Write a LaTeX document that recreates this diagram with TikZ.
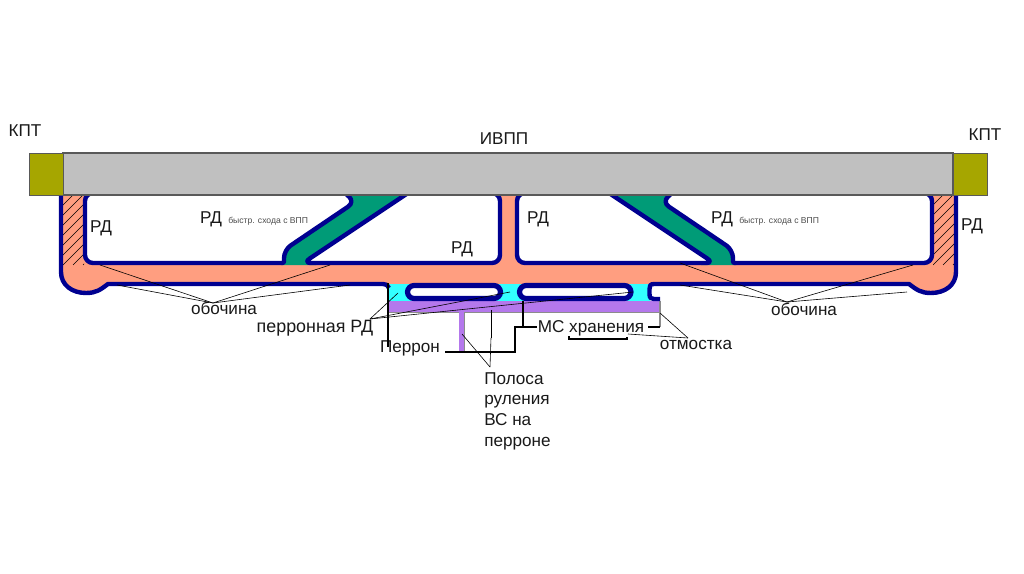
\documentclass[tikz,border=0pt]{standalone}
\usepackage{fontspec}
\setmainfont{Liberation Sans}
\definecolor{navy}{HTML}{000090}
\definecolor{salmon}{HTML}{FF9E80}
\definecolor{teal2}{HTML}{009B77}
\definecolor{rwgray}{HTML}{C0C0C0}
\definecolor{olive2}{HTML}{A6A600}
\definecolor{cyan2}{HTML}{33FFFF}
\definecolor{purp}{HTML}{B478EC}
\newcommand{\halfplan}{%
  \fill[teal2] (281,265)--(316,265)--(408,195)--(342,195)--(285,240)--cycle;
  \filldraw[room] (94,193)--(85,193)--(85,263)[rounded corners=1pt]--(284,263)[rounded corners=6pt]--(284,250)--(355,202)--(345,193);
  \filldraw[room] (408,193)--(303,263)--(500,263)--(500,193)--(488,193);
}
\tikzset{
  room/.style={fill=white,draw=navy,line width=3.3pt,rounded corners=6pt,line join=round},
  blueline/.style={draw=navy,line width=3.3pt,line join=round},
  lead/.style={draw=black,line width=0.45pt},
  heavy/.style={draw=black,line width=1pt},
  lbl/.style={inner sep=0pt,font=\fontsize{12.85pt}{15pt}\selectfont,text=black!90},
  tiny/.style={inner sep=0pt,font=\fontsize{6.45pt}{7pt}\selectfont,text=black!70},
  pill/.style={fill=white,draw=navy,line width=3.9pt,rounded corners=5pt},
  edgegray/.style={draw=black!45,line width=1.2pt},
  runway/.style={draw=black!65,fill=rwgray,line width=0.8pt,inner sep=0pt,minimum width=667.5pt,minimum height=31.5pt},
  kptbox/.style={draw=black!65,fill=olive2,line width=0.6pt,inner sep=0pt,minimum width=25.9pt,minimum height=31.5pt}
}
\begin{document}
\begin{tikzpicture}[x=0.75pt,y=-0.75pt]
\useasboundingbox (0,0) rectangle (1024,574);
\fill[white] (0,0) rectangle (1024,574);
% salmon ground
\fill[salmon] (61,260)--(956,260)--(956,272) .. controls (956,285) and (945,293) .. (931,293)
  .. controls (921,293) and (917,290) .. (909,284)--(108,284)
  .. controls (100,290) and (96,293) .. (86,293) .. controls (72,293) and (61,285) .. (61,272)--cycle;
\fill[salmon] (500,195) rectangle (517,265);
% hatching
\fill[salmon] (61,195) rectangle (88,265);
\fill[salmon] (929,195) rectangle (956,265);
\begin{scope}
  \clip (63,195) rectangle (84,265);
  \foreach \k in {-7,...,3} {\draw[black,line width=0.5pt] (63+\k*10,265)--(63+\k*10+70,195);}
\end{scope}
\begin{scope}
  \clip (933,195) rectangle (954,265);
  \foreach \k in {-7,...,3} {\draw[black,line width=0.5pt] (933+\k*10,265)--(933+\k*10+70,195);}
\end{scope}
% apron
\fill[cyan2] (388,283.5) rectangle (650,302);
\fill[purp] (388,301) rectangle (659,312);
\draw[edgegray] (388,312.5)--(660,312.5)--(660,301);
\draw[draw=black!45,line width=1.6pt] (660,312)--(660,327);
\fill[purp] (459,312) rectangle (464,352);
\draw[edgegray] (464.5,312)--(464.5,352);
\filldraw[pill] (407.5,285.5) rectangle (500.5,298.5);
\filldraw[pill] (519.5,285.5) rectangle (631,298.5);
% rooms, left half and its mirror image
\halfplan
\begin{scope}[shift={(1017,0)},xscale=-1]
  \halfplan
\end{scope}
% outer edge
\draw[blueline] (61,193)--(61,272) .. controls (61,285) and (72,293) .. (86,293)
  .. controls (96,293) and (100,290) .. (108,284)--(383,284) .. controls (386,284) and (388,285) .. (389,288);
\draw[blueline] (956,193)--(956,272) .. controls (956,285) and (945,293) .. (931,293)
  .. controls (921,293) and (917,290) .. (909,284)--(654,284)
  .. controls (650,284) and (649.5,286) .. (649.5,289)--(649.5,294)
  .. controls (649.5,298) and (651,299) .. (654,299)--(660,299);
% runway and clearways
\node[runway] (rw) at (508,174) {};
\node[kptbox] (kl) at (46.5,174) {};
\node[kptbox] (kr) at (970.5,174) {};
% labels
\node[lbl] (t1) at (25,131) {КПТ};
\node[lbl] (t2) at (985,135) {КПТ};
\node[lbl] (t3) at (504,139) {ИВПП};
\node[lbl] (r1) at (101,228.5) {РД};
\node[lbl] (r2) at (211,219.5) {РД};
\node[tiny,anchor=west] (s1) at (228,221) {быстр. схода с ВПП};
\node[lbl] (r3) at (462,249.5) {РД};
\node[lbl] (r4) at (538,219.5) {РД};
\node[lbl] (r5) at (722,219.5) {РД};
\node[tiny,anchor=west] (s2) at (739,221) {быстр. схода с ВПП};
\node[lbl] (r6) at (972,226.5) {РД};
\node[lbl] (ob1) at (224,308.5) {обочина};
\node[lbl] (ob2) at (804,309.5) {обочина};
\node[lbl,font=\fontsize{13.4pt}{15pt}\selectfont] (prd) at (315,328) {перронная РД};
\node[lbl] (per) at (410,348) {Перрон};
\node[lbl] (ms) at (591,328.5) {МС хранения};
\node[lbl] (otm) at (696,345) {отмостка};
\node[lbl,anchor=north west,align=left,font=\fontsize{12.85pt}{15.7pt}\selectfont] (pol) at (484,372) {Полоса\\руления\\ВС на\\перроне};
% leader ends
\coordinate (oA) at (213,303);
\coordinate (oa1) at (100,265); \coordinate (oa2) at (330,265);
\coordinate (oa3) at (117,285); \coordinate (oa4) at (350,285);
\coordinate (oB) at (787,302);
\coordinate (ob1e) at (680,263); \coordinate (ob2e) at (913,265);
\coordinate (ob3e) at (680,285); \coordinate (ob4e) at (907,292);
\coordinate (pA) at (370,319);
\coordinate (pa1) at (398,293); \coordinate (pa2) at (510,292); \coordinate (pa3) at (633,292);
\coordinate (qA) at (490,367);
\coordinate (qa1) at (462,334); \coordinate (qa2) at (491,338); \coordinate (qa3) at (491,310);
\coordinate (mA) at (688,338);
\coordinate (ma1) at (660,313); \coordinate (ma2) at (628,334);
\coordinate (h1) at (388,283); \coordinate (h2) at (388,347);
\coordinate (h3) at (445,352); \coordinate (h4) at (515,352); \coordinate (h5) at (515,327); \coordinate (h6) at (537,327);
\coordinate (h7) at (523,301); \coordinate (h8) at (523,327);
\coordinate (h9) at (648,327); \coordinate (h10) at (660,327);
\coordinate (u1) at (569,336); \coordinate (u2) at (569,339); \coordinate (u3) at (627,339); \coordinate (u4) at (627,337);
% leaders
\foreach \e in {oa1,oa2,oa3,oa4} {\draw[lead] (oA)--(\e);}
\foreach \e in {ob1e,ob2e,ob3e,ob4e} {\draw[lead] (oB)--(\e);}
\foreach \e in {pa1,pa2,pa3} {\draw[lead] (pA)--(\e);}
\foreach \e in {qa1,qa2} {\draw[lead] (qA)--(\e);}
\foreach \e in {ma1,ma2} {\draw[lead] (mA)--(\e);}
\draw[lead] (qa3)--(qa2);
\draw[heavy] (h1)--(h2);
\draw[heavy] (h3)--(h4)--(h5)--(h6);
\draw[heavy] (h7)--(h8);
\draw[heavy] (h9)--(h10);
\draw[heavy] (u1)--(u2)--(u3)--(u4);
\end{tikzpicture}
\end{document}
